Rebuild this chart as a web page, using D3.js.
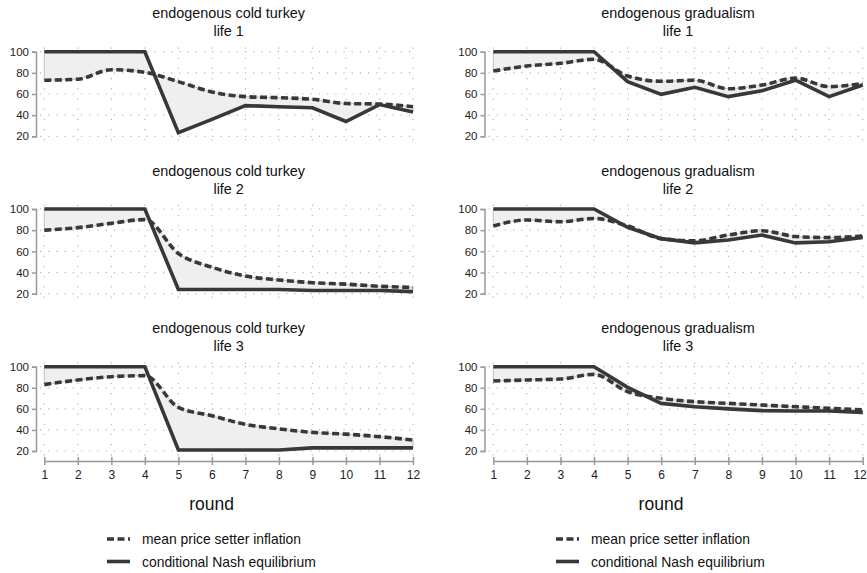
<!DOCTYPE html>
<html><head><meta charset="utf-8">
<script src="https://cdn.jsdelivr.net/npm/d3@7"></script>
<style>
body{margin:0;background:#fff;}
svg{display:block;font-family:"Liberation Sans",Arial,sans-serif;}
</style></head>
<body>
<svg id="c" width="867" height="573"></svg>
<script>
const rounds = [1,2,3,4,5,6,7,8,9,10,11,12];
const yTicks = [20,40,60,80,100];
const treatments = ["endogenous cold turkey","endogenous gradualism"];
const lives = ["life 1","life 2","life 3"];
const legendLabels = ["mean price setter inflation","conditional Nash equilibrium"];
const xLabel = "round";

// cold turkey
const ctMean1 = [73,74,83,80.5,71.7,62,57.5,56.5,55,51,50.5,48];
const ctNash1 = [100,100,100,100,23.5,36,49,48,47,34,50,43];
const ctMean2 = [80,82.4,86.5,90,58,45,36.7,33,30.4,29,27,26];
const ctNash2 = [100,100,100,100,24,24,24,24,23,23,23,22];
const ctMean3 = [83,87.4,90.5,91.5,61.4,53.5,45.3,41,37.7,36,33.6,30.4];
const ctNash3 = [100,100,100,100,21,21,21,21,23,23,23,23];
// gradualism
const grMean1 = [81.7,86.5,89,92.8,77,72,73,65,68.5,75,67,70];
const grNash1 = [100,100,100,100,71.7,59.7,66.3,57.5,63,73,57.5,68.5];
const grMean2 = [84,89.6,88,91,84,72,70,75.4,79.5,74,73,74.5];
const grNash2 = [100,100,100,100,82.7,72,68,70.7,75.4,68,69,73];
const grMean3 = [86.4,87.4,88.3,92.7,76.3,70,66.8,65.2,63.6,62,60.5,59];
const grNash3 = [100,100,100,100,80.4,65.2,62,60,58.3,58,58,56.7];

const meanSeries = [[ctMean1,ctMean2,ctMean3],[grMean1,grMean2,grMean3]];
const nashSeries = [[ctNash1,ctNash2,ctNash3],[grNash1,grNash2,grNash3]];

const svg = d3.select("#c");
const dark = "#383838";
const colX = [[44.3,413],[493.3,862.7]];
const rowY = [[51.7,136.3],[209,293.7],[366.7,451]];
const axisX = [36,484.5];

for (let c=0;c<2;c++){
  const x = d3.scaleLinear().domain([1,12]).range(colX[c]);
  for (let r=0;r<3;r++){
    const y = d3.scaleLinear().domain([20,100]).range([rowY[r][1],rowY[r][0]]);
    const g = svg.append("g");
    // titles
    const cx = (colX[c][0]+colX[c][1])/2;
    g.append("text").attr("x",cx).attr("y",y(100)-33.5).attr("text-anchor","middle")
      .attr("font-size",14.4).attr("fill","#111").text(treatments[c]);
    g.append("text").attr("x",cx).attr("y",y(100)-15.5).attr("text-anchor","middle")
      .attr("font-size",14.4).attr("fill","#111").text(lives[r]);
    // grid
    const grid = g.append("g").attr("stroke","#b5b5b5").attr("stroke-width",1.2)
      .attr("stroke-dasharray","1.2,7").attr("fill","none");
    yTicks.forEach(t=>{
      grid.append("line").attr("x1",axisX[c]+4).attr("x2",colX[c][1]+2)
        .attr("y1",y(t)).attr("y2",y(t));
    });
    rounds.forEach(t=>{
      grid.append("line").attr("x1",x(t)).attr("x2",x(t))
        .attr("y1",y(104)).attr("y2",y(13)).attr("stroke-dasharray","1.2,9");
    });
    // y axis
    const ya = g.append("g").attr("transform",`translate(${axisX[c]},0)`)
      .call(d3.axisLeft(y).tickValues(yTicks).tickSize(4).tickPadding(3));
    ya.selectAll("path,line").attr("stroke","#999").attr("stroke-width",1.5);
    ya.selectAll("text").attr("font-size",11.5).attr("fill","#222")
      .attr("font-family","Liberation Sans, Arial, sans-serif");
    // data
    const mean = meanSeries[c][r], nash = nashSeries[c][r];
    const meanLine = d3.line().x((d,i)=>x(rounds[i])).y(d=>y(d)).curve(d3.curveMonotoneX);
    const nashLine = d3.line().x((d,i)=>x(rounds[i])).y(d=>y(d));
    const nashRev = d3.line().x(d=>x(d[0])).y(d=>y(d[1]));
    const revPts = rounds.map((rd,i)=>[rd,nash[i]]).reverse();
    const areaPath = meanLine(mean) + "L" + nashRev(revPts).slice(1) + "Z";
    g.append("path").attr("d",areaPath).attr("fill","#efefef")
      .attr("stroke","#c4c4c4").attr("stroke-width",1);
    g.append("path").attr("d",nashLine(nash)).attr("fill","none")
      .attr("stroke",dark).attr("stroke-width",3.6).attr("stroke-linejoin","miter");
    g.append("path").attr("d",meanLine(mean)).attr("fill","none")
      .attr("stroke",dark).attr("stroke-width",3.6).attr("stroke-dasharray","7,3.5");
    // x axis on bottom row
    if (r===2){
      const xa = g.append("g").attr("transform",`translate(0,${rowY[2][1]+10})`)
        .call(d3.axisBottom(x).tickValues(rounds).tickFormat(d3.format("d")).tickSize(-5).tickSizeOuter(0).tickPadding(9));
      xa.selectAll("path,line").attr("stroke","#999").attr("stroke-width",1.5);
      xa.selectAll("line").attr("y1",-4).attr("y2",4);
      xa.selectAll("text").attr("font-size",12).attr("fill","#222")
        .attr("font-family","Liberation Sans, Arial, sans-serif");
      if (c===1) xa.selectAll("text").filter(d=>d===12).attr("text-anchor","end").attr("dx","0.3em");
      g.append("text").attr("x",(colX[c][0]+colX[c][1])/2-17).attr("y",510)
        .attr("text-anchor","middle").attr("font-size",17.5).attr("fill","#111").text(xLabel);
      // legend
      const lx = c===0 ? 107 : 556;
      const ly = [539,561.5];
      g.append("line").attr("x1",lx).attr("x2",lx+23).attr("y1",ly[0]).attr("y2",ly[0])
        .attr("stroke",dark).attr("stroke-width",3.6).attr("stroke-dasharray","7,3.5");
      g.append("line").attr("x1",lx).attr("x2",lx+23).attr("y1",ly[1]).attr("y2",ly[1])
        .attr("stroke",dark).attr("stroke-width",3.6);
      legendLabels.forEach((t,i)=>{
        g.append("text").attr("x",lx+35).attr("y",ly[i]+5).attr("font-size",13.9)
          .attr("fill","#111").text(t);
      });
    }
  }
}
</script>
</body></html>
